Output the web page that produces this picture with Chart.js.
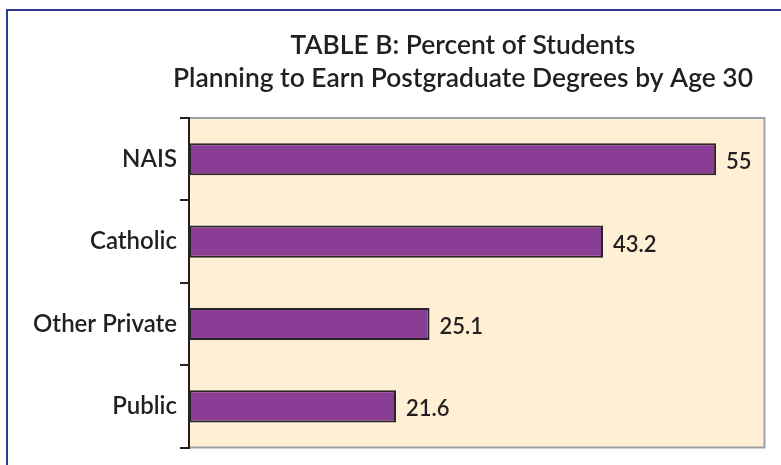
<!DOCTYPE html>
<html>
<head>
<meta charset="utf-8">
<script src="https://cdn.jsdelivr.net/npm/chart.js@4"></script>
<style>
  html, body { margin: 0; padding: 0; background: #ffffff; }
  #wrap { position: relative; width: 781px; height: 465px; }
</style>
</head>
<body>
<div id="wrap"><canvas id="c" width="781" height="465"></canvas></div>
<script>
const titleLines = ['TABLE B: Percent of Students', 'Planning to Earn Postgraduate Degrees by Age 30'];
const categories = ['NAIS', 'Catholic', 'Other Private', 'Public'];
const values = [55, 43.2, 25.1, 21.6];
const valueLabels = ['55', '43.2', '25.1', '21.6'];

const FONT = 'Lato, "Open Sans", sans-serif';
const INK = '#231f20';

const framePlugin = {
  id: 'frame',
  beforeDraw(chart) {
    const ctx = chart.ctx;
    const a = chart.chartArea;
    ctx.save();
    ctx.strokeStyle = '#2e3a97';
    ctx.lineWidth = 2;
    ctx.beginPath();
    ctx.moveTo(7, chart.height + 2);
    ctx.lineTo(7, 10);
    ctx.lineTo(chart.width + 2, 10);
    ctx.stroke();
    ctx.fillStyle = '#ffefd4';
    ctx.fillRect(a.left, a.top, a.right - a.left, a.bottom - a.top);
    ctx.strokeStyle = '#9ea2a6';
    ctx.lineWidth = 2;
    ctx.beginPath();
    ctx.moveTo(a.left, a.top);
    ctx.lineTo(a.right + 0.5, a.top);
    ctx.lineTo(a.right + 0.5, a.bottom);
    ctx.lineTo(a.left, a.bottom);
    ctx.stroke();
    ctx.restore();
  }
};

const titlePlugin = {
  id: 'titleText',
  afterDraw(chart) {
    const ctx = chart.ctx;
    ctx.save();
    ctx.font = '600 26.4px ' + FONT;
    ctx.fillStyle = INK;
    ctx.textAlign = 'center';
    ctx.textBaseline = 'middle';
    titleLines.forEach((t, i) => ctx.fillText(t, 463, 45 + i * 33));
    ctx.restore();
  }
};

const valueLabelPlugin = {
  id: 'valueLabels',
  afterDatasetsDraw(chart) {
    const ctx = chart.ctx;
    const meta = chart.getDatasetMeta(0);
    ctx.save();
    ctx.font = '600 22px ' + FONT;
    ctx.fillStyle = INK;
    ctx.textAlign = 'left';
    ctx.textBaseline = 'middle';
    meta.data.forEach((bar, i) => {
      ctx.fillText(valueLabels[i], bar.x + 10, bar.y + 3);
    });
    ctx.restore();
  }
};

new Chart(document.getElementById('c'), {
  type: 'bar',
  data: {
    labels: categories,
    datasets: [{
      data: values,
      backgroundColor: '#8a3d94',
      borderColor: '#2a2426',
      borderWidth: 2,
      borderSkipped: false,
      barPercentage: 0.39,
      categoryPercentage: 1.0
    }]
  },
  options: {
    indexAxis: 'y',
    responsive: false,
    devicePixelRatio: 1,
    animation: false,
    layout: { padding: { left: 10, right: 17, top: 118, bottom: 17 } },
    plugins: {
      legend: { display: false },
      tooltip: { enabled: false },
      title: { display: false }
    },
    scales: {
      x: {
        display: false,
        min: 0,
        max: 60
      },
      y: {
        afterFit(scale) { scale.width = 179; },
        grid: {
          display: true,
          drawOnChartArea: false,
          drawTicks: true,
          tickLength: 9,
          color: INK,
          lineWidth: 2,
          offset: true
        },
        border: { display: true, color: INK, width: 2 },
        ticks: {
          color: INK,
          padding: 3,
          font: { family: FONT, size: 24, weight: 600 }
        }
      }
    }
  },
  plugins: [framePlugin, titlePlugin, valueLabelPlugin]
});
</script>
</body>
</html>
